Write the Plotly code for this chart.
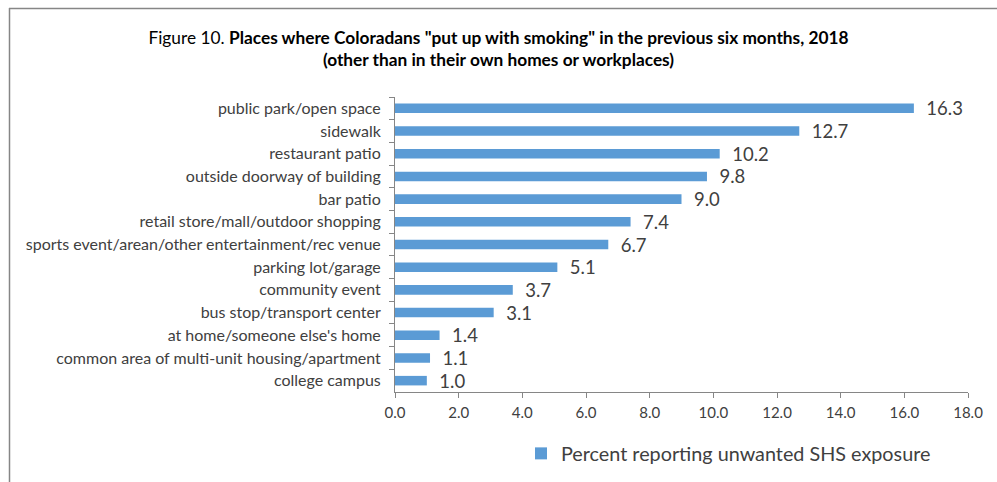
import plotly.graph_objects as go

categories = [
    "public park/open space",
    "sidewalk",
    "restaurant patio",
    "outside doorway of building",
    "bar patio",
    "retail store/mall/outdoor shopping",
    "sports event/arean/other entertainment/rec venue",
    "parking lot/garage",
    "community event",
    "bus stop/transport center",
    "at home/someone else's home",
    "common area of multi-unit housing/apartment",
    "college campus",
]
values = [16.3, 12.7, 10.2, 9.8, 9.0, 7.4, 6.7, 5.1, 3.7, 3.1, 1.4, 1.1, 1.0]
series_name = "Percent reporting unwanted SHS exposure"
x_ticks = [0, 2, 4, 6, 8, 10, 12, 14, 16, 18]
x_tick_labels = ["0.0", "2.0", "4.0", "6.0", "8.0", "10.0", "12.0", "14.0", "16.0", "18.0"]

W, H = 997, 482
L, R, T, B = 395, 968, 97, 392

FONT = "Lato"

fig = go.Figure(go.Bar(
    x=values,
    y=categories,
    orientation="h",
    name=series_name,
    marker=dict(color="#5B9BD5", line=dict(width=0)),
    texttemplate="  %{x:.1f}",
    textposition="outside",
    constraintext="none",
    textfont=dict(size=18.5, color="#404040", family=FONT),
    cliponaxis=False,
    showlegend=True,
))

def px(x):
    return (x - L) / (R - L)

def py(y):
    return (B - y) / (B - T)

fig.update_layout(
    width=W, height=H,
    margin=dict(l=L, r=W - R, t=T, b=H - B, pad=0, autoexpand=False),
    paper_bgcolor="white",
    plot_bgcolor="white",
    font=dict(family=FONT, color="#404040", size=14),
    bargap=0.58,
    title=dict(
        text="Figure 10. <b>Places where Coloradans \"put up with smoking\" in the previous six months, 2018</b>"
             "<br><b>(other than in their own homes or workplaces)</b>",
        x=0.5, xanchor="center", xref="container",
        y=1 - 44 / H, yanchor="top", yref="container",
        font=dict(size=17.3, color="black", family=FONT),
    ),
    xaxis=dict(
        range=[0, 18],
        tickvals=x_ticks,
        ticktext=x_tick_labels,
        showgrid=False,
        zeroline=False,
        showline=True,
        linecolor="#868686",
        linewidth=1,
        ticks="outside",
        ticklen=5,
        tickcolor="#868686",
        tickfont=dict(size=15, color="#404040"),
        ticklabelstandoff=2,
    ),
    yaxis=dict(
        autorange="reversed",
        showgrid=False,
        showline=True,
        linecolor="#868686",
        linewidth=1,
        ticks="outside",
        tickson="boundaries",
        ticklen=5,
        tickcolor="#868686",
        tickfont=dict(size=16, color="#404040"),
        ticklabelstandoff=10,
    ),
    legend=dict(
        orientation="h",
        x=px(521), xanchor="left",
        y=py(434), yanchor="top",
        font=dict(size=19.8, color="#404040"),
        bgcolor="rgba(0,0,0,0)",
    ),
    shapes=[
        dict(type="line", xref="paper", yref="paper",
             x0=px(9), x1=px(1000), y0=py(8.5), y1=py(8.5),
             line=dict(color="#868686", width=1.5)),
        dict(type="line", xref="paper", yref="paper",
             x0=px(9.5), x1=px(9.5), y0=py(8), y1=py(490),
             line=dict(color="#868686", width=1.5)),
    ],
)

fig.write_html(
    "out.html",
    config={"displayModeBar": False},
    post_script="document.body.style.margin='0';document.body.style.padding='0';document.body.style.overflow='hidden';",
)
